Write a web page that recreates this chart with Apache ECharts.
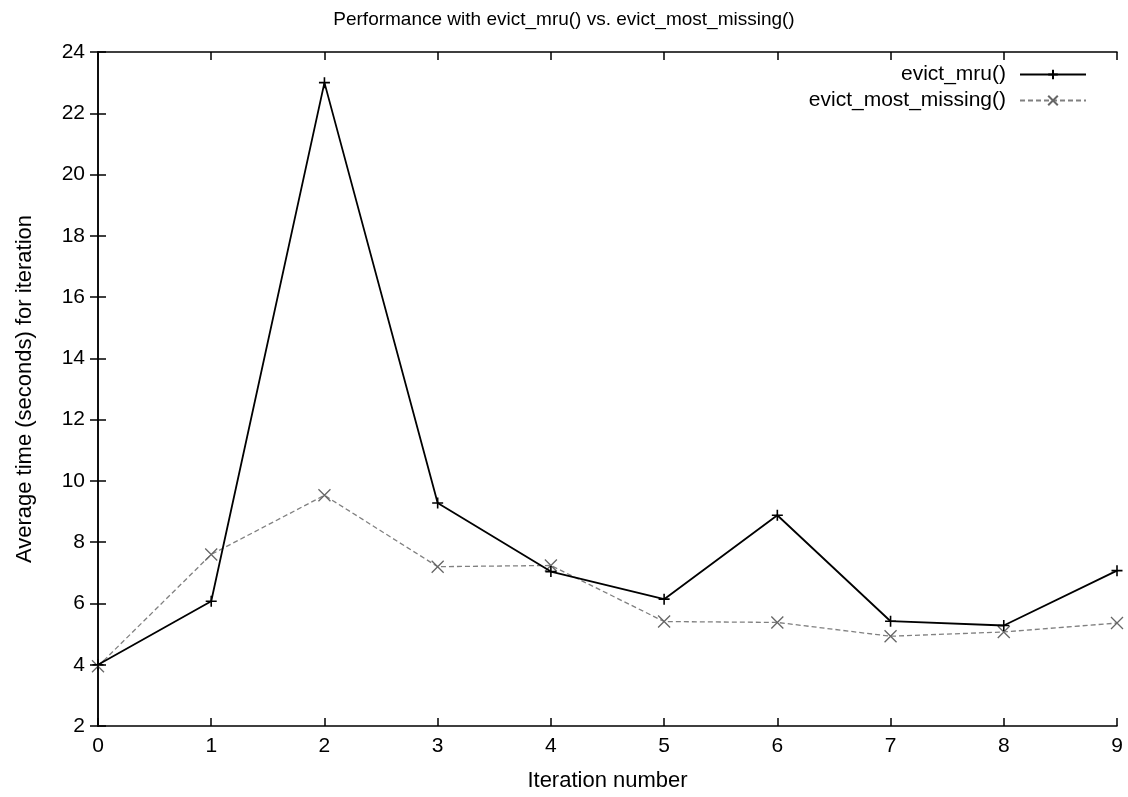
<!DOCTYPE html>
<html>
<head>
<meta charset="utf-8">
<script src="https://cdn.jsdelivr.net/npm/echarts@6/dist/echarts.min.js"></script>
<style>
  html, body { margin: 0; padding: 0; background: #fff; }
  #chart { width: 1128px; height: 797px; }
</style>
</head>
<body>
<div id="chart"></div>
<script>
// iteration numbers on x axis
const iterations = [0, 1, 2, 3, 4, 5, 6, 7, 8, 9];
// average time (seconds) per iteration
const evictMru = [4.0, 6.07, 23.0, 9.28, 7.04, 6.14, 8.88, 5.42, 5.28, 7.07];
const evictMostMissing = [3.95, 7.6, 9.53, 7.2, 7.24, 5.41, 5.38, 4.93, 5.07, 5.36];

const FONT = '"Liberation Sans", Arial, sans-serif';

const toPairs = (vals) => iterations.map((x, i) => [x, vals[i]]);

// gnuplot style point markers
const plusSym = 'path://M0,5L10,5M5,0L5,10';
const crossSym = 'path://M0,0L10,10M0,10L10,0';

const chart = echarts.init(document.getElementById('chart'));

const tickStyle = { show: true, inside: true, length: 8, lineStyle: { color: '#000', width: 1.5 } };

chart.setOption({
  animation: false,
  backgroundColor: '#fff',
  title: {
    text: 'Performance with evict_mru() vs. evict_most_missing()',
    left: 'center',
    top: 5,
    textStyle: { fontFamily: FONT, fontSize: 19, fontWeight: 'normal', color: '#000' }
  },
  legend: {
    orient: 'vertical',
    right: 36,
    top: 59,
    align: 'right',
    itemWidth: 66,
    itemHeight: 12,
    itemGap: 5,
    textStyle: { fontFamily: FONT, fontSize: 21, color: '#000', padding: [0, 9, 0, 0] },
    data: ['evict_mru()', 'evict_most_missing()']
  },
  grid: { left: 98, right: 11, top: 52, bottom: 68 },
  xAxis: [
    {
      type: 'value', min: 0, max: 9, interval: 1,
      name: 'Iteration number', nameLocation: 'middle', nameGap: 44,
      nameTextStyle: { fontFamily: FONT, fontSize: 22, color: '#000' },
      axisLine: { lineStyle: { color: '#000', width: 1.5 } },
      axisTick: tickStyle,
      axisLabel: { fontFamily: FONT, fontSize: 21, color: '#000', margin: 10 },
      splitLine: { show: false }
    },
    {
      type: 'value', min: 0, max: 9, interval: 1, position: 'top',
      axisLine: { lineStyle: { color: '#000', width: 1.5 } },
      axisTick: tickStyle,
      axisLabel: { show: false },
      splitLine: { show: false }
    }
  ],
  yAxis: [
    {
      type: 'value', min: 2, max: 24, interval: 2,
      name: 'Average time (seconds) for iteration', nameLocation: 'middle', nameGap: 62,
      nameTextStyle: { fontFamily: FONT, fontSize: 22, color: '#000' },
      axisLine: { show: true, lineStyle: { color: '#000', width: 1.5 } },
      axisTick: tickStyle,
      axisLabel: { fontFamily: FONT, fontSize: 21, color: '#000', margin: 13 },
      splitLine: { show: false }
    },
    {
      type: 'value', min: 2, max: 24, interval: 2, position: 'right',
      axisLine: { show: true, lineStyle: { color: '#000', width: 1.5 } },
      axisTick: tickStyle,
      axisLabel: { show: false },
      splitLine: { show: false }
    }
  ],
  series: [
    {
      name: 'evict_mru()',
      type: 'line',
      data: toPairs(evictMru),
      symbol: plusSym,
      symbolSize: 11,
      lineStyle: { color: '#000', width: 1.8, type: 'solid' },
      itemStyle: { color: 'none', borderColor: '#000', borderWidth: 1.6 },
      z: 3
    },
    {
      name: 'evict_most_missing()',
      type: 'line',
      data: toPairs(evictMostMissing),
      symbol: crossSym,
      symbolSize: 12,
      lineStyle: { color: '#808080', width: 1.3, type: [5, 3] },
      itemStyle: { color: 'none', borderColor: '#666', borderWidth: 1.3 },
      z: 2
    }
  ]
});
</script>
</body>
</html>
